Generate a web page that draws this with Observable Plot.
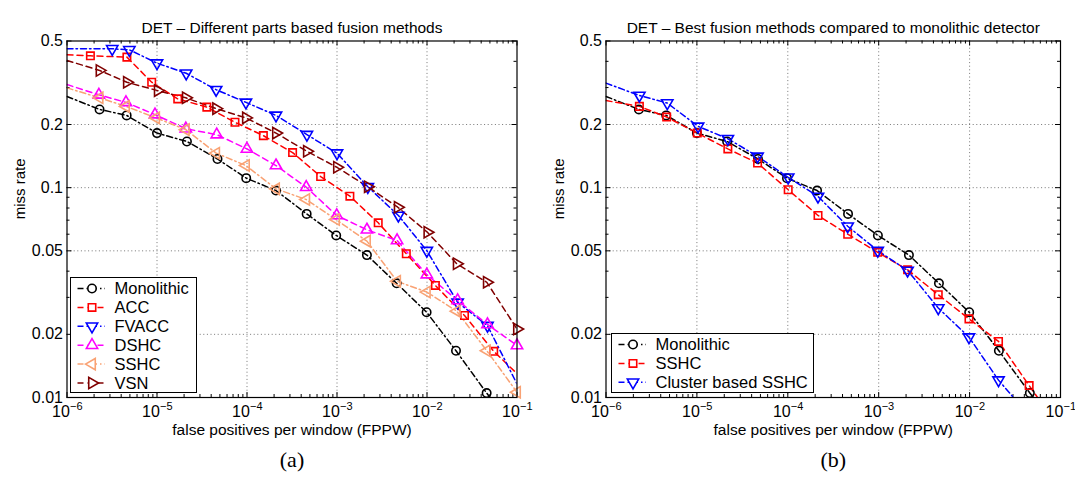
<!DOCTYPE html>
<html>
<head>
<meta charset="utf-8">
<script src="https://cdn.jsdelivr.net/npm/d3@7"></script>
<script src="https://cdn.jsdelivr.net/npm/@observablehq/plot@0.6"></script>
<style>
  body { margin: 0; background: #fff; font-family: "Liberation Sans", Arial, sans-serif; }
  #wrap { position: relative; width: 1075px; height: 479px; overflow: hidden; background: #fff; }
  .panel { position: absolute; top: 0; }
  .legend { position: absolute; background: #fff; border: 1.2px solid #000; box-sizing: border-box; }
  .legend svg { display: block; overflow: visible; }
</style>
</head>
<body>
<div id="wrap"></div>
<script>
// ---------------- DATA ----------------
// Axis ticks
const xTickExponents = [-6, -5, -4, -3, -2, -1];
const yTicks = [0.01, 0.02, 0.05, 0.1, 0.2, 0.5];
const yTickLabels = ["0.01", "0.02", "0.05", "0.1", "0.2", "0.5"];

// Monolithic (same in both panels)
const monoFppw = [2.3e-6, 4.6e-6, 1.0e-5, 2.15e-5, 4.7e-5, 9.8e-5, 2.1e-4, 4.6e-4, 9.8e-4, 2.15e-3, 4.6e-3, 9.9e-3, 2.1e-2, 4.6e-2];
const monoMiss = [0.236, 0.221, 0.182, 0.166, 0.137, 0.111, 0.0969, 0.0750, 0.0592, 0.0477, 0.0350, 0.0255, 0.0167, 0.0105];
const monoLineEnds = [[1e-6, 0.272], [1e-1, 0.0068]];

// Panel (a)
const accFppw = [1.82e-6, 4.63e-6, 8.73e-6, 1.70e-5, 3.58e-5, 7.35e-5, 1.52e-4, 3.21e-4, 6.58e-4, 1.39e-3, 2.87e-3, 5.89e-3, 1.24e-2, 2.61e-2, 5.51e-2];
const accMiss = [0.425, 0.419, 0.318, 0.265, 0.242, 0.205, 0.177, 0.147, 0.113, 0.0911, 0.0680, 0.0484, 0.0342, 0.0246, 0.0166];
const accLineEnds = [[1e-6, 0.430], [1e-1, 0.0130]];

const fvaccFppw = [3.18e-6, 4.93e-6, 1.0e-5, 2.11e-5, 4.54e-5, 9.73e-5, 2.10e-4, 4.63e-4, 1.0e-3, 2.20e-3, 4.81e-3, 9.95e-3, 2.19e-2, 4.70e-2];
const fvaccMiss = [0.459, 0.454, 0.392, 0.351, 0.293, 0.255, 0.221, 0.179, 0.146, 0.101, 0.0737, 0.0501, 0.0284, 0.0220];
const fvaccLineEnds = [[1e-6, 0.459], [1e-1, 0.0116]];

const dshcFppw = [2.26e-6, 4.52e-6, 9.5e-6, 2.09e-5, 4.61e-5, 9.98e-5, 2.1e-4, 4.55e-4, 9.93e-4, 2.15e-3, 4.65e-3, 9.95e-3, 2.19e-2, 4.7e-2, 1.0e-1];
const dshcMiss = [0.277, 0.255, 0.223, 0.191, 0.179, 0.153, 0.1275, 0.1005, 0.0737, 0.0630, 0.0560, 0.0385, 0.0290, 0.0223, 0.0177];
const dshcLineEnds = [[1e-6, 0.310]];

const sshcAFppw = [2.3e-6, 4.52e-6, 9.77e-6, 2.09e-5, 4.54e-5, 9.73e-5, 2.1e-4, 4.55e-4, 9.75e-4, 2.15e-3, 4.65e-3, 9.95e-3, 2.14e-2, 4.62e-2, 1.0e-1];
const sshcAMiss = [0.268, 0.244, 0.215, 0.189, 0.146, 0.1275, 0.0987, 0.0878, 0.0705, 0.0556, 0.0358, 0.0318, 0.0258, 0.0167, 0.0106];
const sshcALineEnds = [[1e-6, 0.299]];

const vsnFppw = [2.3e-6, 4.63e-6, 1.02e-5, 2.09e-5, 4.54e-5, 9.73e-5, 2.1e-4, 4.63e-4, 1.0e-3, 2.2e-3, 4.73e-3, 1.01e-2, 2.14e-2, 4.62e-2, 1.0e-1];
const vsnMiss = [0.362, 0.318, 0.290, 0.268, 0.238, 0.215, 0.182, 0.149, 0.125, 0.101, 0.0807, 0.0613, 0.0434, 0.0354, 0.0212];
const vsnLineEnds = [[1e-6, 0.404]];

// Panel (b)
const sshcBFppw = [2.33e-6, 4.65e-6, 1.01e-5, 2.19e-5, 4.65e-5, 1.01e-4, 2.15e-4, 4.56e-4, 9.75e-4, 2.08e-3, 4.52e-3, 9.84e-3, 2.08e-2, 4.52e-2];
const sshcBMiss = [0.244, 0.217, 0.182, 0.153, 0.131, 0.0977, 0.0737, 0.0600, 0.0492, 0.0406, 0.0309, 0.0237, 0.0185, 0.0114];
const sshcBLineEnds = [[1e-6, 0.260], [1e-1, 0.0070]];

const clusterFppw = [2.33e-6, 4.72e-6, 1.03e-5, 2.19e-5, 4.65e-5, 1.01e-4, 2.15e-4, 4.56e-4, 9.75e-4, 2.08e-3, 4.52e-3, 9.84e-3, 2.08e-2];
const clusterMiss = [0.275, 0.253, 0.196, 0.171, 0.141, 0.112, 0.0908, 0.0655, 0.0501, 0.0403, 0.0267, 0.0194, 0.0121];
const clusterLineEnds = [[1e-6, 0.315], [1e-1, 0.0055]];

// ---------------- STYLE ----------------
const DASHED = "6,4";
const DASHDOT = "6,3,1.5,3";
const FONT = "'Liberation Sans', Arial, Helvetica, sans-serif";

const seriesA = [
  {name: "Monolithic", fppw: monoFppw, miss: monoMiss, ends: monoLineEnds, color: "#000000", dash: DASHDOT, symbol: "circle", rotate: 0},
  {name: "ACC", fppw: accFppw, miss: accMiss, ends: accLineEnds, color: "#ff0000", dash: DASHED, symbol: "square", rotate: 0},
  {name: "FVACC", fppw: fvaccFppw, miss: fvaccMiss, ends: fvaccLineEnds, color: "#0000ff", dash: DASHDOT, symbol: "triangle", rotate: 180},
  {name: "DSHC", fppw: dshcFppw, miss: dshcMiss, ends: dshcLineEnds, color: "#ff00ff", dash: DASHED, symbol: "triangle", rotate: 0},
  {name: "SSHC", fppw: sshcAFppw, miss: sshcAMiss, ends: sshcALineEnds, color: "#f9a274", dash: DASHDOT, symbol: "triangle", rotate: -90},
  {name: "VSN", fppw: vsnFppw, miss: vsnMiss, ends: vsnLineEnds, color: "#800000", dash: DASHED, symbol: "triangle", rotate: 90}
];
const seriesB = [
  {name: "Monolithic", fppw: monoFppw, miss: monoMiss, ends: monoLineEnds, color: "#000000", dash: DASHDOT, symbol: "circle", rotate: 0},
  {name: "SSHC", fppw: sshcBFppw, miss: sshcBMiss, ends: sshcBLineEnds, color: "#ff0000", dash: DASHED, symbol: "square", rotate: 0},
  {name: "Cluster based SSHC", fppw: clusterFppw, miss: clusterMiss, ends: clusterLineEnds, color: "#0000ff", dash: DASHDOT, symbol: "triangle", rotate: 180}
];

const R = 4.2;

// tick positions
const xMajor = xTickExponents.map(e => Math.pow(10, e));
const xMinor = [];
for (let e = -6; e < -1; e++) for (let k = 2; k <= 9; k++) xMinor.push(k * Math.pow(10, e));
const yMinor = [0.03, 0.04, 0.06, 0.07, 0.08, 0.09, 0.3, 0.4];

function buildPanel({width, marginLeft, marginRight, title, caption, series}) {
  const height = 479, marginTop = 40.5, marginBottom = 82;
  const fw = width - marginLeft - marginRight;
  const fh = height - marginTop - marginBottom;
  const gridStyle = {stroke: "#666", strokeDasharray: "1,2.6", strokeWidth: 0.9};
  const tickStyle = {stroke: "#000", strokeWidth: 1};
  const marks = [
    Plot.ruleX(xMajor.slice(1, -1), gridStyle),
    Plot.ruleY(yTicks.slice(1, -1), gridStyle),
    Plot.ruleX(xMajor, {...tickStyle, insetTop: fh - 5}),
    Plot.ruleX(xMajor, {...tickStyle, insetBottom: fh - 5}),
    Plot.ruleX(xMinor, {...tickStyle, insetTop: fh - 3}),
    Plot.ruleX(xMinor, {...tickStyle, insetBottom: fh - 3}),
    Plot.ruleY(yTicks, {...tickStyle, insetRight: fw - 5}),
    Plot.ruleY(yTicks, {...tickStyle, insetLeft: fw - 5}),
    Plot.ruleY(yMinor, {...tickStyle, insetRight: fw - 3}),
    Plot.ruleY(yMinor, {...tickStyle, insetLeft: fw - 3})
  ];
  for (const s of series) {
    const pts = s.fppw.map((x, i) => ({x, y: s.miss[i]}));
    const linePts = pts.concat(s.ends.map(([x, y]) => ({x, y}))).sort((a, b) => a.x - b.x);
    marks.push(Plot.line(linePts, {x: "x", y: "y", stroke: s.color, strokeWidth: 1.5, strokeDasharray: s.dash, clip: true}));
  }
  for (const s of series) {
    const pts = s.fppw.map((x, i) => ({x, y: s.miss[i]}));
    marks.push(Plot.dot(pts, {x: "x", y: "y", symbol: s.symbol, rotate: s.rotate, r: R, stroke: s.color, fill: "none", strokeWidth: 1.6}));
  }
  marks.push(
    Plot.frame({stroke: "#000", strokeWidth: 1.2}),
    Plot.text([title], {text: d => d, frameAnchor: "top", dy: -19.5, fontSize: 15.5, fill: "#000"}),
    Plot.text(["miss rate"], {text: d => d, frameAnchor: "left", dx: -46.5, rotate: -90, fontSize: 15, fill: "#000"}),
    Plot.text(["false positives per window (FPPW)"], {text: d => d, frameAnchor: "bottom", dy: 37.5, fontSize: 15.5, fill: "#000"}),
    Plot.text([caption], {text: d => d, frameAnchor: "bottom", dy: 69, fontSize: 22, fontFamily: "'Liberation Serif', 'DejaVu Serif', serif", fill: "#000"}),
    Plot.text(yTicks, {y: d => d, text: (d, i) => yTickLabels[i], frameAnchor: "left", textAnchor: "end", dx: -4, fontSize: 16, fill: "#000"}),
    Plot.text(xTickExponents, {x: e => Math.pow(10, e), text: () => "10", frameAnchor: "bottom", dy: 19.5, dx: -6, fontSize: 16, fill: "#000"}),
    Plot.text(xTickExponents, {x: e => Math.pow(10, e), text: e => "\u2212" + (-e), frameAnchor: "bottom", textAnchor: "start", dy: 12, dx: 3, fontSize: 11, fill: "#000"})
  );
  return Plot.plot({
    width, height, marginTop, marginRight, marginBottom, marginLeft,
    x: {type: "log", domain: [1e-6, 1e-1], axis: null},
    y: {type: "log", domain: [0.01, 0.5], axis: null},
    style: {fontFamily: FONT, background: "transparent", overflow: "visible", color: "#000"},
    marks
  });
}

function buildLegend(series, {left, top, width, height, rowY, rowGap}) {
  const div = document.createElement("div");
  div.className = "legend";
  Object.assign(div.style, {left: left + "px", top: top + "px", width: width + "px", height: height + "px"});
  const svg = d3.select(div).append("svg").attr("width", width - 2).attr("height", height - 2);
  series.forEach((s, i) => {
    const y = rowY + i * rowGap;
    const g = svg.append("g").attr("transform", `translate(0,${y})`);
    g.append("line").attr("x1", 6.5).attr("x2", 34).attr("y1", 0).attr("y2", 0)
      .attr("stroke", s.color).attr("stroke-width", 1.5).attr("stroke-dasharray", s.dash);
    const sym = {circle: d3.symbolCircle, square: d3.symbolSquare, triangle: d3.symbolTriangle}[s.symbol];
    g.append("path").attr("d", d3.symbol(sym, Math.PI * R * R)())
      .attr("transform", `translate(21,0) rotate(${s.rotate})`)
      .attr("fill", "#fff").attr("stroke", s.color).attr("stroke-width", 1.6);
    g.append("text").attr("x", 43.5).attr("y", 0).attr("dy", "0.35em")
      .attr("font-family", FONT).attr("font-size", 16.5).attr("fill", "#000").text(s.name);
  });
  return div;
}

const wrap = document.getElementById("wrap");
const pa = buildPanel({width: 538, marginLeft: 66.5, marginRight: 21.5,
  title: "DET \u2013 Different parts based fusion methods", caption: "(a)", series: seriesA});
pa.classList.add("panel"); pa.style.left = "0px";
wrap.appendChild(pa);
const pb = buildPanel({width: 537, marginLeft: 67.5, marginRight: 15,
  title: "DET \u2013 Best fusion methods compared to monolithic detector", caption: "(b)", series: seriesB});
pb.classList.add("panel"); pb.style.left = "538px";
wrap.appendChild(pb);

wrap.appendChild(buildLegend(seriesA, {left: 70, top: 277, width: 127, height: 116, rowY: 10.5, rowGap: 18.9}));
wrap.appendChild(buildLegend(seriesB, {left: 611, top: 333, width: 203, height: 60, rowY: 10.5, rowGap: 18.9}));
</script>
</body>
</html>
